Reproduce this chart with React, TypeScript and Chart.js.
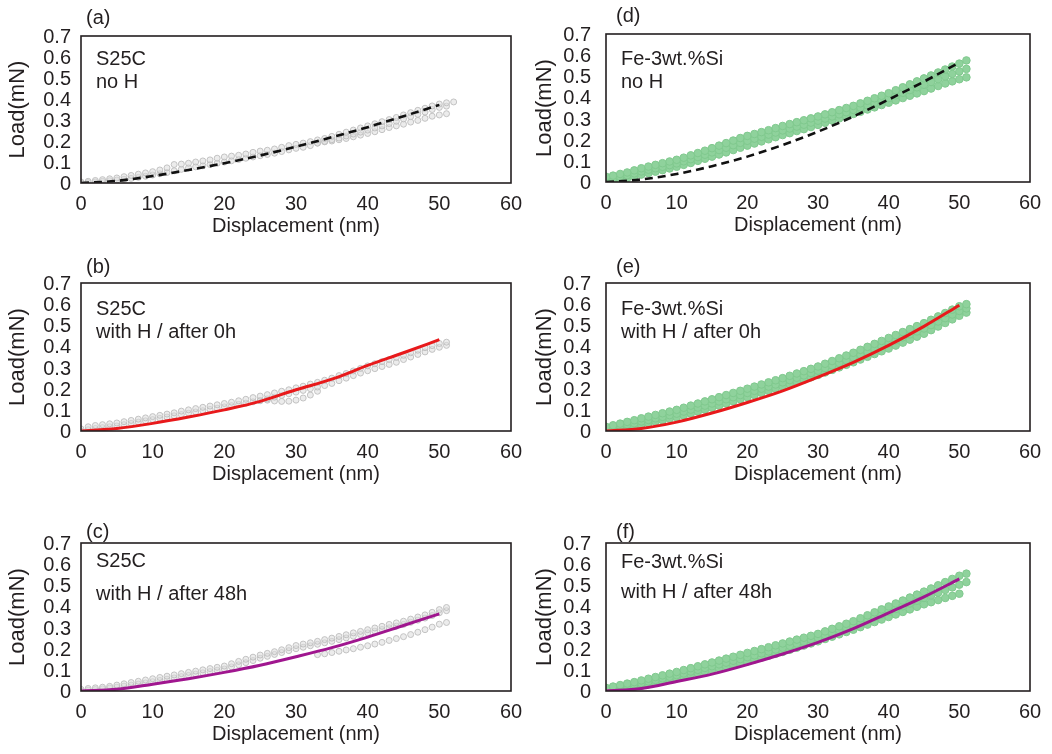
import React, { useEffect, useRef } from 'react';
import { Chart, registerables } from 'chart.js';

Chart.register(...registerables);

const FONT = '"Liberation Sans", Arial, Helvetica, sans-serif';
const INK = '#231f20';

// ---------- shared axes ----------
const dispNm = [0,1,2,3,4,5,6,7,8,9,10,11,12,13,14,15,16,17,18,19,20,21,22,23,24,25,26,27,28,29,30,31,32,33,34,35,36,37,38,39,40,41,42,43,44,45,46,47,48,49,50,51,52];
const fitNm = [0,5,10,15,20,25,30,35,40,45,50];
const xTickLabels = ['0','10','20','30','40','50','60'];
const yTickLabels = ['0','0.1','0.2','0.3','0.4','0.5','0.6','0.7'];
const xTitle = 'Displacement (nm)';
const yTitle = 'Load(mN)';

// ---------- (a) S25C no H ----------
const aHiY = [0.005,0.008,0.012,0.016,0.02,0.024,0.03,0.036,0.042,0.048,
  0.054,0.062,0.072,0.088,0.09,0.094,0.1,0.105,0.11,0.118,
  0.124,0.128,0.132,0.138,0.146,0.152,0.156,0.162,0.17,0.178,
  0.184,0.19,0.197,0.205,0.212,0.222,0.232,0.242,0.252,0.262,
  0.272,0.282,0.292,0.302,0.312,0.324,0.335,0.346,0.356,0.367,
  0.376,0.382,0.386];
const aLoY = [0,0.002,0.005,0.008,0.011,0.014,0.018,0.022,0.027,0.032,
  0.038,0.044,0.05,0.058,0.065,0.072,0.077,0.082,0.088,0.094,
  0.1,0.106,0.112,0.118,0.124,0.13,0.136,0.142,0.15,0.158,
  0.165,0.17,0.178,0.19,0.198,0.206,0.214,0.224,0.233,0.242,
  0.252,0.262,0.272,0.283,0.294,0.305,0.316,0.327,0.338,0.35,
  0.36,0.366,null];
const aBrX = [33,34,35,36,37,38,39,40,41,42,43,44,45,46,47,48,49,50,51];
const aBrY = [0.19,0.196,0.2,0.206,0.212,0.22,0.228,0.236,0.244,0.254,0.264,0.272,0.28,0.29,0.298,0.308,0.318,0.324,0.33];
const aFitY = [0,0.01,0.033,0.062,0.094,0.131,0.173,0.218,0.266,0.318,0.372];

// ---------- (b) S25C with H / after 0h ----------
const bHiY = [0.01,0.02,0.026,0.03,0.034,0.038,0.044,0.05,0.056,0.062,
  0.068,0.074,0.08,0.086,0.094,0.1,0.106,0.112,0.118,0.124,
  0.13,0.136,0.143,0.15,0.158,0.165,0.172,0.18,0.188,0.195,
  0.204,0.212,0.222,0.23,0.24,0.25,0.262,0.272,0.284,0.296,
  0.308,0.318,0.328,0.338,0.348,0.358,0.37,0.382,0.394,0.404,
  0.414,0.42,null];
const bLoY = [0,0.006,0.012,0.016,0.02,0.024,0.03,0.036,0.042,0.048,
  0.054,0.06,0.066,0.072,0.078,0.084,0.09,0.096,0.102,0.108,
  0.114,0.12,0.126,0.132,0.138,0.145,0.152,0.16,0.168,0.176,
  0.184,0.192,0.2,0.208,0.215,0.225,0.238,0.25,0.262,0.274,
  0.285,0.295,0.305,0.315,0.325,0.338,0.35,0.362,0.374,0.386,
  0.396,0.405,null];
const bBrX = [25,26,27,28,29,30,31,32,33];
const bBrY = [0.143,0.146,0.142,0.14,0.141,0.146,0.156,0.17,0.188];
const bFitY = [0,0.012,0.036,0.066,0.1,0.14,0.195,0.245,0.31,0.37,0.432];

// ---------- (c) S25C with H / after 48h ----------
const cHiY = [0.008,0.012,0.015,0.018,0.022,0.028,0.034,0.04,0.046,0.052,
  0.058,0.064,0.07,0.076,0.082,0.088,0.094,0.1,0.106,0.112,
  0.118,0.129,0.14,0.15,0.16,0.17,0.178,0.186,0.195,0.205,
  0.215,0.222,0.228,0.235,0.243,0.25,0.258,0.266,0.275,0.282,
  0.29,0.298,0.306,0.315,0.322,0.33,0.34,0.35,0.36,0.372,
  0.385,0.395,null];
const cLoY = [0,0.004,0.007,0.01,0.014,0.018,0.023,0.028,0.033,0.038,
  0.044,0.05,0.056,0.062,0.068,0.074,0.08,0.086,0.092,0.098,
  0.104,0.114,0.124,0.134,0.144,0.155,0.164,0.173,0.182,0.191,
  0.2,0.207,0.214,0.221,0.228,0.235,0.243,0.251,0.259,0.267,
  0.275,0.283,0.291,0.299,0.307,0.315,0.325,0.335,0.345,0.357,
  0.37,0.38,null];
const cBrX = [33,34,35,36,37,38,39,40,41,42,43,44,45,46,47,48,49,50,51];
const cBrY = [0.172,0.176,0.182,0.188,0.194,0.2,0.207,0.214,0.222,0.23,0.239,0.248,0.257,0.267,0.278,0.29,0.302,0.316,0.324];
const cFitY = [0,0.008,0.032,0.058,0.088,0.122,0.162,0.205,0.255,0.31,0.365];

// ---------- (d) Fe-3wt.%Si no H ----------
const dHiY = [0.025,0.03,0.038,0.045,0.055,0.065,0.073,0.081,0.089,0.097,
  0.105,0.115,0.126,0.137,0.148,0.16,0.172,0.184,0.196,0.208,
  0.218,0.227,0.236,0.245,0.255,0.265,0.274,0.283,0.292,0.301,
  0.31,0.32,0.33,0.34,0.35,0.36,0.372,0.384,0.396,0.408,
  0.42,0.434,0.448,0.462,0.476,0.49,0.504,0.518,0.532,0.546,
  0.56,0.575,null];
const dMidY = [0.012,0.018,0.025,0.032,0.041,0.05,0.058,0.065,0.072,0.08,
  0.088,0.098,0.108,0.118,0.129,0.14,0.151,0.162,0.174,0.185,
  0.195,0.205,0.214,0.224,0.234,0.244,0.253,0.262,0.271,0.281,
  0.29,0.3,0.31,0.32,0.33,0.341,0.352,0.363,0.374,0.386,
  0.397,0.41,0.422,0.435,0.448,0.46,0.473,0.486,0.499,0.511,
  0.523,0.535,null];
const dLoY = [0,0.006,0.012,0.019,0.027,0.035,0.042,0.049,0.056,0.064,
  0.072,0.081,0.09,0.1,0.11,0.12,0.13,0.14,0.151,0.162,
  0.172,0.182,0.192,0.202,0.212,0.222,0.231,0.241,0.25,0.26,
  0.27,0.28,0.291,0.301,0.311,0.322,0.332,0.343,0.353,0.364,
  0.375,0.386,0.397,0.408,0.419,0.43,0.442,0.454,0.466,0.476,
  0.486,0.495,null];
const dFitY = [0,0.012,0.038,0.075,0.12,0.175,0.238,0.31,0.39,0.475,0.565];

// ---------- (e) Fe-3wt.%Si with H / after 0h ----------
const eHiY = [0.02,0.027,0.035,0.043,0.051,0.06,0.068,0.076,0.084,0.092,
  0.1,0.11,0.12,0.13,0.14,0.15,0.16,0.17,0.18,0.19,
  0.2,0.21,0.22,0.23,0.24,0.25,0.261,0.272,0.283,0.294,
  0.305,0.318,0.331,0.344,0.357,0.37,0.384,0.398,0.412,0.426,
  0.44,0.454,0.468,0.482,0.496,0.51,0.526,0.542,0.558,0.574,
  0.59,0.6,null];
const eMidY = [0.01,0.016,0.023,0.03,0.037,0.045,0.052,0.06,0.067,0.075,
  0.082,0.092,0.101,0.111,0.12,0.13,0.14,0.15,0.16,0.17,
  0.18,0.19,0.2,0.21,0.22,0.23,0.241,0.252,0.263,0.274,
  0.285,0.298,0.31,0.322,0.335,0.348,0.361,0.374,0.388,0.401,
  0.415,0.429,0.443,0.457,0.471,0.485,0.501,0.518,0.534,0.551,
  0.568,0.58,null];
const eLoY = [0,0.006,0.012,0.018,0.024,0.03,0.037,0.044,0.051,0.058,
  0.065,0.074,0.083,0.092,0.101,0.11,0.12,0.13,0.14,0.15,
  0.16,0.17,0.18,0.19,0.2,0.21,0.221,0.232,0.243,0.254,
  0.265,0.277,0.289,0.301,0.313,0.325,0.338,0.351,0.364,0.377,
  0.39,0.404,0.418,0.432,0.446,0.46,0.477,0.494,0.511,0.528,
  0.545,0.56,null];
const eFitY = [0,0.012,0.042,0.085,0.135,0.19,0.255,0.325,0.405,0.495,0.595];

// ---------- (f) Fe-3wt.%Si with H / after 48h ----------
const fHiY = [0.015,0.021,0.028,0.035,0.042,0.05,0.058,0.066,0.074,0.082,
  0.09,0.099,0.108,0.117,0.126,0.135,0.144,0.153,0.162,0.171,
  0.18,0.189,0.198,0.207,0.216,0.225,0.234,0.243,0.252,0.261,
  0.27,0.282,0.294,0.306,0.318,0.33,0.344,0.358,0.372,0.386,
  0.4,0.414,0.428,0.442,0.456,0.47,0.485,0.5,0.515,0.53,
  0.545,0.555,null];
const fMidY = [0.007,0.013,0.019,0.025,0.031,0.037,0.045,0.052,0.06,0.067,
  0.075,0.083,0.092,0.1,0.109,0.117,0.126,0.134,0.143,0.151,
  0.16,0.169,0.178,0.187,0.196,0.205,0.214,0.224,0.233,0.243,
  0.252,0.264,0.275,0.287,0.298,0.31,0.323,0.336,0.349,0.362,
  0.375,0.388,0.401,0.414,0.427,0.44,0.452,0.465,0.478,0.49,
  0.503,0.515,null];
const fLoY = [0,0.005,0.01,0.015,0.02,0.025,0.032,0.039,0.046,0.053,
  0.06,0.068,0.076,0.084,0.092,0.1,0.108,0.116,0.124,0.132,
  0.14,0.149,0.158,0.167,0.176,0.185,0.195,0.205,0.215,0.225,
  0.235,0.246,0.257,0.268,0.279,0.29,0.302,0.314,0.326,0.338,
  0.35,0.362,0.374,0.386,0.398,0.41,0.42,0.43,0.44,0.45,
  0.46,null,null];
const fFitY = [0,0.012,0.045,0.08,0.125,0.175,0.23,0.295,0.37,0.445,0.53];

// ---------- styles ----------
const GRAY = 'rgba(190,190,190,0.9)';
const GRAY_FILL = 'rgba(220,220,220,0.55)';
const GREEN = '#80c98e';
const GREEN_FILL = '#8fd29c';
const RED = '#e8191b';
const PURPLE = '#a0168f';
const BLACK = '#111111';

type Row = { x: number[]; y: (number | null)[] };
type Spec = {
  key: string; label: string; lines: string[];
  left: number; top: number; width: number; height: number;
  plotLeft: number; plotTop: number; plotRight: number;
  tickPad: number; yTitlePad: number;
  baselines: number[]; textDx: number; labelDx: number; labelDy: number;
  rows: Row[]; green: boolean;
  fitY: number[]; fitColor: string; fitDash: number[]; fitWidth: number;
};

function pts(x: number[], y: (number | null)[]) {
  const out: { x: number; y: number }[] = [];
  for (let i = 0; i < x.length; i++) {
    const v = y[i];
    if (v !== null && v !== undefined) out.push({ x: x[i], y: v });
  }
  return out;
}

const specs: Spec[] = [
  { key: 'a', label: '(a)', lines: ['S25C', 'no H'], left: 0, top: 0, width: 528, height: 243,
    plotLeft: 81, plotTop: 36, plotRight: 511, tickPad: 10, yTitlePad: 5,
    baselines: [29, 52], textDx: 15, labelDx: 5, labelDy: -18,
    rows: [{ x: dispNm, y: aHiY }, { x: dispNm, y: aLoY }, { x: aBrX, y: aBrY }], green: false,
    fitY: aFitY, fitColor: BLACK, fitDash: [8, 5], fitWidth: 2.6 },
  { key: 'b', label: '(b)', lines: ['S25C', 'with H / after 0h'], left: 0, top: 250, width: 528, height: 241,
    plotLeft: 81, plotTop: 33, plotRight: 511, tickPad: 10, yTitlePad: 5,
    baselines: [32, 55], textDx: 15, labelDx: 5, labelDy: -16,
    rows: [{ x: dispNm, y: bHiY }, { x: dispNm, y: bLoY }, { x: bBrX, y: bBrY }], green: false,
    fitY: bFitY, fitColor: RED, fitDash: [], fitWidth: 3 },
  { key: 'c', label: '(c)', lines: ['S25C', 'with H / after 48h'], left: 0, top: 500, width: 528, height: 251,
    plotLeft: 81, plotTop: 43, plotRight: 511, tickPad: 10, yTitlePad: 5,
    baselines: [24, 57], textDx: 15, labelDx: 5, labelDy: -11,
    rows: [{ x: dispNm, y: cHiY }, { x: dispNm, y: cLoY }, { x: cBrX, y: cBrY }], green: false,
    fitY: cFitY, fitColor: PURPLE, fitDash: [], fitWidth: 3 },
  { key: 'd', label: '(d)', lines: ['Fe-3wt.%Si', 'no H'], left: 520, top: 0, width: 532, height: 242,
    plotLeft: 86, plotTop: 34, plotRight: 510, tickPad: 15, yTitlePad: 12,
    baselines: [31, 54], textDx: 15, labelDx: 10, labelDy: -18,
    rows: [{ x: dispNm, y: dHiY }, { x: dispNm, y: dMidY }, { x: dispNm, y: dLoY }], green: true,
    fitY: dFitY, fitColor: BLACK, fitDash: [8, 5], fitWidth: 2.6 },
  { key: 'e', label: '(e)', lines: ['Fe-3wt.%Si', 'with H / after 0h'], left: 520, top: 250, width: 532, height: 241,
    plotLeft: 86, plotTop: 33, plotRight: 510, tickPad: 15, yTitlePad: 12,
    baselines: [32, 55], textDx: 15, labelDx: 10, labelDy: -16,
    rows: [{ x: dispNm, y: eHiY }, { x: dispNm, y: eMidY }, { x: dispNm, y: eLoY }], green: true,
    fitY: eFitY, fitColor: RED, fitDash: [], fitWidth: 3 },
  { key: 'f', label: '(f)', lines: ['Fe-3wt.%Si', 'with H / after 48h'], left: 520, top: 500, width: 532, height: 251,
    plotLeft: 86, plotTop: 43, plotRight: 510, tickPad: 15, yTitlePad: 12,
    baselines: [25, 55], textDx: 15, labelDx: 10, labelDy: -11,
    rows: [{ x: dispNm, y: fHiY }, { x: dispNm, y: fMidY }, { x: dispNm, y: fLoY }], green: true,
    fitY: fFitY, fitColor: PURPLE, fitDash: [], fitWidth: 3 },
];

const overlayPlugin = {
  id: 'overlay',
  afterDraw(chart: any, _args: any, opts: any) {
    const { ctx, chartArea: a } = chart;
    ctx.save();
    ctx.strokeStyle = INK;
    ctx.lineWidth = 1.6;
    ctx.strokeRect(a.left, a.top, a.right - a.left, a.bottom - a.top);
    ctx.fillStyle = INK;
    ctx.font = `20px ${FONT}`;
    ctx.textAlign = 'left';
    ctx.textBaseline = 'alphabetic';
    (opts.lines as string[]).forEach((t, i) => ctx.fillText(t, a.left + opts.textDx, a.top + opts.baselines[i]));
    ctx.textBaseline = 'middle';
    ctx.fillText(opts.label, a.left + opts.labelDx, a.top + opts.labelDy);
    ctx.restore();
  },
};

function Panel({ s }: { s: Spec }) {
  const ref = useRef<HTMLCanvasElement>(null);
  useEffect(() => {
    const plotBottom = s.height - 60;
    const color = s.green ? GREEN : GRAY;
    const fill = s.green ? GREEN_FILL : GRAY_FILL;
    const radius = s.green ? 3.8 : 3;
    const datasets: any[] = [
      {
        data: pts(fitNm, s.fitY), showLine: true, borderColor: s.fitColor, borderWidth: s.fitWidth,
        borderDash: s.fitDash, pointRadius: 0, cubicInterpolationMode: 'monotone', order: 0, fill: false,
      },
      ...s.rows.map((r) => ({
        data: pts(r.x, r.y), showLine: false, pointRadius: radius, pointBorderWidth: 1,
        borderColor: color, backgroundColor: fill, pointStyle: 'circle', order: 1,
      })),
    ];
    const chart = new Chart(ref.current as HTMLCanvasElement, {
      type: 'scatter',
      data: { datasets },
      options: {
        animation: false,
        responsive: true,
        maintainAspectRatio: false,
        events: [],
        layout: { padding: { left: 0, top: s.plotTop, right: s.width - s.plotRight, bottom: 0 } },
        plugins: {
          legend: { display: false },
          tooltip: { enabled: false },
          title: { display: false },
          overlay: { lines: s.lines, baselines: s.baselines, textDx: s.textDx, label: s.label, labelDx: s.labelDx, labelDy: s.labelDy },
        } as any,
        scales: {
          x: {
            type: 'linear', position: 'bottom', min: 0, max: 60,
            grid: { display: false, drawTicks: false },
            border: { display: false },
            ticks: {
              stepSize: 10, padding: 9, color: INK, font: { family: FONT, size: 20 }, maxRotation: 0,
              callback: (v: any) => xTickLabels[Math.round(Number(v) / 10)] ?? '',
            },
            title: { display: true, text: xTitle, color: INK, font: { family: FONT, size: 20 }, padding: { top: 0, bottom: 5 } },
            afterFit: (sc: any) => { sc.height = s.height - plotBottom; sc.paddingLeft = 0; sc.paddingRight = 0; },
          },
          y: {
            type: 'linear', position: 'left', min: 0, max: 0.7,
            grid: { display: false, drawTicks: false },
            border: { display: false },
            ticks: {
              stepSize: 0.1, autoSkip: false, padding: s.tickPad, labelOffset: 1.5, color: INK, font: { family: FONT, size: 20 },
              callback: (v: any) => yTickLabels[Math.round(Number(v) * 10)] ?? '',
            },
            title: { display: true, text: yTitle, color: INK, font: { family: FONT, size: 22 }, padding: { top: s.yTitlePad, bottom: 0 } },
            afterFit: (sc: any) => { sc.width = s.plotLeft; sc.paddingTop = 0; sc.paddingBottom = 0; },
          },
        },
      } as any,
      plugins: [overlayPlugin],
    });
    return () => chart.destroy();
  }, []);
  return (
    <div style={{ position: 'absolute', left: s.left, top: s.top, width: s.width, height: s.height }}>
      <canvas ref={ref} />
    </div>
  );
}

export default function App() {
  return (
    <div style={{ position: 'absolute', left: 0, top: 0, width: 1052, height: 754, background: '#ffffff', overflow: 'hidden' }}>
      {specs.map((s) => <Panel key={s.key} s={s} />)}
    </div>
  );
}
